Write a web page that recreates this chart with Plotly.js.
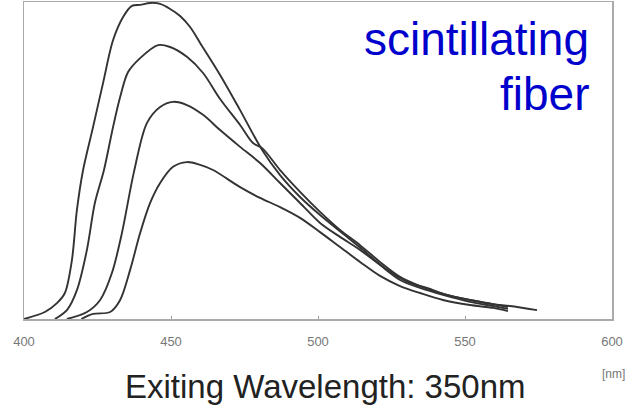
<!DOCTYPE html>
<html>
<head>
<meta charset="utf-8">
<script src="https://cdn.plot.ly/plotly-3.0.1.min.js"></script>
<style>
  html, body { margin: 0; padding: 0; background: #fff; }
  #chart { width: 631px; height: 410px; }
</style>
</head>
<body>
<div id="chart"></div>
<script>
// Emission spectra of a scintillating fiber (excitation at 350 nm),
// four curves, relative intensity vs wavelength in nm.
const wlA = [400.0, 407.1, 411.2, 413.9, 416.3, 418.0, 420.1, 423.5, 426.9, 430.3, 433.7, 436.7, 439.5, 442.9, 446.3, 449.7, 453.1, 456.5, 459.9, 466.7, 473.5, 481.0, 487.1, 493.9, 500.7, 509.9, 515.3, 523.5, 531.3, 537.1, 543.9, 551.7, 559.5, 565.3, 574.5];
const intA = [0, 2.2, 5.0, 8.2, 18.6, 34.4, 47.0, 60.6, 74.5, 88.0, 95.3, 98.8, 99.1, 99.7, 99.4, 97.8, 95.6, 92.1, 87.1, 77.0, 65.9, 53.3, 45.4, 38.5, 32.8, 25.9, 21.8, 15.5, 11.4, 9.8, 7.6, 6.0, 4.7, 4.1, 2.8];

const wlB = [410.5, 414.6, 418.0, 421.4, 424.1, 427.2, 430.3, 432.7, 435.4, 439.5, 445.6, 449.7, 455.4, 460.9, 466.7, 473.5, 477.9, 481.0, 487.1, 493.9, 500.7, 507.5, 514.3, 521.1, 527.9, 534.7, 542.5, 551.7, 559.5, 564.6];
const intB = [0, 2.8, 9.1, 21.8, 36.6, 47.0, 60.6, 70.0, 77.9, 82.3, 86.4, 85.8, 82.7, 77.6, 69.4, 61.2, 55.5, 53.9, 47.0, 40.1, 33.8, 28.1, 23.3, 18.0, 13.3, 10.4, 7.9, 6.0, 4.7, 3.8];

const wlC = [414.6, 421.4, 425.9, 429.9, 433.3, 437.4, 441.8, 446.3, 450.7, 455.4, 460.9, 466.7, 473.5, 480.3, 487.1, 493.9, 500.7, 507.5, 514.3, 521.1, 527.9, 534.7, 542.5, 551.7, 559.5, 564.6];
const intC = [0, 2.2, 6.0, 14.5, 27.1, 46.4, 61.8, 66.9, 68.5, 67.5, 64.4, 59.6, 54.3, 49.2, 42.9, 36.6, 30.3, 25.9, 21.8, 17.0, 12.3, 9.8, 7.6, 5.4, 4.1, 3.2];

const wlD = [419.5, 423.5, 429.3, 432.7, 436.1, 439.5, 442.9, 446.3, 450.7, 455.4, 459.9, 464.3, 473.5, 480.3, 487.1, 493.9, 500.7, 507.5, 514.3, 521.1, 527.9, 534.7, 542.5, 551.7, 559.5, 564.6];
const intD = [0, 1.6, 2.2, 6.0, 15.5, 27.1, 36.6, 42.9, 48.0, 49.5, 48.6, 47.0, 41.6, 38.2, 35.3, 31.9, 27.4, 22.7, 18.0, 13.6, 10.4, 8.2, 6.0, 4.4, 3.5, 2.5];

const tickVals = [400, 450, 500, 550, 600];
const tickText = ['400', '450', '500', '550', '600'];

const series = [[wlA, intA], [wlB, intB], [wlC, intC], [wlD, intD]];

const traces = series.map(([x, y]) => ({
  type: 'scatter',
  mode: 'lines',
  x: x,
  y: y,
  line: { color: '#333333', width: 1.9, shape: 'spline', smoothing: 0.9 },
  hoverinfo: 'skip',
  showlegend: false
}));

const layout = {
  width: 631,
  height: 410,
  margin: { l: 24, r: 19, t: 2, b: 91 },
  paper_bgcolor: '#ffffff',
  plot_bgcolor: '#ffffff',
  xaxis: {
    range: [400, 600],
    tickvals: tickVals,
    ticktext: tickText,
    ticks: 'inside',
    ticklen: 3,
    tickwidth: 1,
    tickcolor: '#999',
    showline: true,
    mirror: true,
    linecolor: '#aaaaaa',
    linewidth: 1.5,
    showgrid: false,
    zeroline: false,
    ticklabelstandoff: 10,
    tickfont: { family: 'Liberation Sans, Arial, sans-serif', size: 13, color: '#777' }
  },
  yaxis: {
    range: [0, 100],
    showticklabels: false,
    ticks: '',
    showline: true,
    mirror: true,
    linecolor: '#aaaaaa',
    linewidth: 1.5,
    showgrid: false,
    zeroline: false
  },
  annotations: [
    {
      text: 'scintillating', xref: 'paper', yref: 'paper',
      x: 0.965, y: 0.883, xanchor: 'right', yanchor: 'middle', showarrow: false,
      font: { family: 'Liberation Sans, Arial, sans-serif', size: 46, color: '#0000cc' }
    },
    {
      text: 'fiber', xref: 'paper', yref: 'paper',
      x: 0.965, y: 0.710, xanchor: 'right', yanchor: 'middle', showarrow: false,
      font: { family: 'Liberation Sans, Arial, sans-serif', size: 46, color: '#0000cc' }
    },
    {
      text: 'Exiting Wavelength: 350nm', xref: 'paper', yref: 'paper',
      x: 0.512, y: -0.212, xanchor: 'center', yanchor: 'middle', showarrow: false,
      font: { family: 'Liberation Sans, Arial, sans-serif', size: 33, color: '#222' }
    },
    {
      text: '[nm]', xref: 'paper', yref: 'paper',
      x: 1.003, y: -0.172, xanchor: 'center', yanchor: 'middle', showarrow: false,
      font: { family: 'Liberation Sans, Arial, sans-serif', size: 12, color: '#777' }
    }
  ]
};

Plotly.newPlot('chart', traces, layout, { staticPlot: true, displayModeBar: false });
</script>
</body>
</html>
